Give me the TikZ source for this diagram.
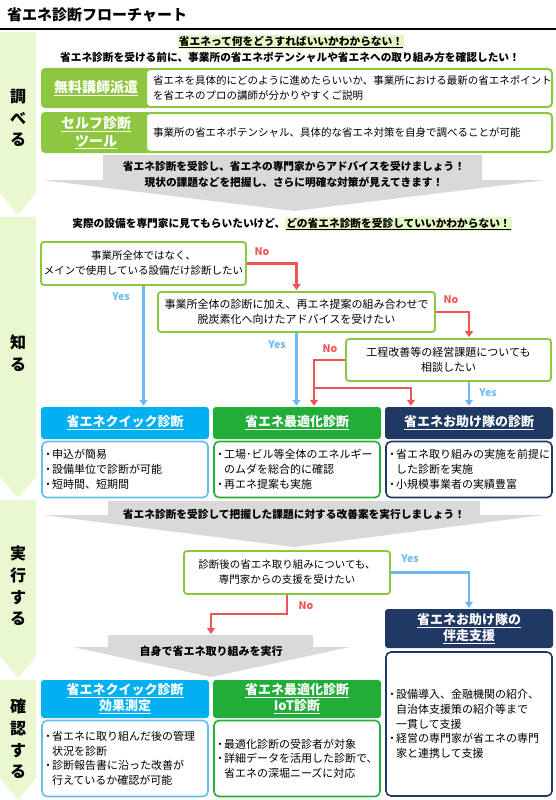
\documentclass[tikz,border=0pt]{standalone}
\usepackage{fontspec}
\setmainfont{Noto Sans CJK JP}
\usetikzlibrary{arrows.meta}

\definecolor{stagegreen}{RGB}{233,248,207}
\definecolor{hlgreen}{RGB}{228,246,196}
\definecolor{leafgreen}{RGB}{141,198,63}
\definecolor{bannergray}{RGB}{217,217,217}
\definecolor{yesblue}{RGB}{110,185,245}
\definecolor{nored}{RGB}{238,85,85}
\definecolor{quickcyan}{RGB}{0,176,240}
\definecolor{quickline}{RGB}{100,190,235}
\definecolor{optgreen}{RGB}{34,172,56}
\definecolor{teamnavy}{RGB}{31,56,100}

\newcommand{\hlmark}[1]{{\setlength{\fboxsep}{1pt}\colorbox{hlgreen}{\underline{#1}}}}
\newcommand{\bul}{\makebox[8pt][c]{・}}
\newcommand{\ind}{\hspace*{8pt}}

\begin{document}
\begin{tikzpicture}[x=1pt,y=-1pt,>={Triangle[width=8pt,length=6pt]},
  stagetext/.style={font=\bfseries\fontsize{16}{21.7}\selectfont, align=center, inner sep=0pt},
  tagbox/.style={fill=leafgreen, rounded corners=4pt, text=white, font=\bfseries\fontsize{14}{18}\selectfont, align=center, inner sep=0pt, minimum width=110pt},
  infobox/.style={fill=white, draw=leafgreen, line width=2pt, rounded corners=4pt, font=\fontsize{10.5}{15}\selectfont, align=left, text width=392pt, inner xsep=7pt, inner ysep=0pt},
  askbox/.style={fill=white, draw=leafgreen, line width=1.8pt, rounded corners=3pt, font=\fontsize{10.5}{15}\selectfont, align=center, inner sep=0pt},
  headbox/.style={rounded corners=3pt, text=white, font=\bfseries\fontsize{13}{16}\selectfont, align=center, inner sep=0pt, minimum width=168pt},
  listbox/.style={fill=white, line width=1.6pt, rounded corners=5pt, font=\fontsize{11}{15}\selectfont, align=left, text width=162pt, inner xsep=2pt, inner ysep=0pt},
  bannertext/.style={font=\bfseries\fontsize{10.7}{16}\selectfont, align=center, inner sep=0pt},
  yesline/.style={draw=yesblue, line width=2.4pt, ->, shorten >=1pt},
  noline/.style={draw=nored, line width=2.4pt, ->, shorten >=1pt},
  yeslabel/.style={text=yesblue, font=\bfseries\fontsize{10.5}{12}\selectfont, inner sep=0pt},
  nolabel/.style={text=nored, font=\bfseries\fontsize{10.5}{12}\selectfont, inner sep=0pt}]
\useasboundingbox (0,0) rectangle (556,800);

\node[anchor=west, font=\bfseries\fontsize{15}{18}\selectfont, inner sep=0pt] (title) at (7,15) {省エネ診断フローチャート};
\draw[line width=2.5pt] (0,29) -- (556,29);

\fill[stagegreen] (0,32) -- (36,32) -- (36,193) -- (18,215) -- (0,193) -- cycle;
\node[stagetext] (research) at (18,118) {調\\べ\\る};
\fill[stagegreen] (0,217) -- (36,217) -- (36,477) -- (18,498) -- (0,477) -- cycle;
\node[stagetext] (learn) at (18,353) {知\\る};
\fill[stagegreen] (0,500) -- (36,500) -- (36,656) -- (18,678) -- (0,656) -- cycle;
\node[stagetext] (act) at (18,586) {実\\行\\す\\る};
\fill[stagegreen] (0,680) -- (36,680) -- (36,778) -- (18,800) -- (0,778) -- cycle;
\node[stagetext] (check) at (18,739) {確\\認\\す\\る};

\node[fill=hlgreen, inner sep=1pt, font=\bfseries\fontsize{10.7}{13}\selectfont] (worry) at (291,42) {\underline{省エネって何をどうすればいいかわからない！}};
\node[inner sep=0pt, font=\bfseries\fontsize{10.7}{13}\selectfont] (wish) at (290,57) {省エネ診断を受ける前に、事業所の省エネポテンシャルや省エネへの取り組み方を確認したい！};

\node[tagbox, minimum height=40pt] (lecture) at (96,88) {\underline{無料講師派遣}};
\node[infobox, minimum height=38pt] (lecturetext) at (349,88) {省エネを具体的にどのように進めたらいいか、事業所における最新の省エネポイント\\を省エネのプロの講師が分かりやすくご説明};
\node[tagbox, minimum height=41pt] (selftool) at (96,132.5) {\underline{セルフ診断}\\\underline{ツール}};
\node[infobox, minimum height=39pt] (selftooltext) at (349,132.5) {事業所の省エネポテンシャル、具体的な省エネ対策を自身で調べることが可能};

\fill[bannergray] (103,155) -- (482,155) -- (482,180) -- (546,180) -- (294,211) -- (42,180) -- (103,180) -- cycle;
\node[bannertext] (advice) at (294,174) {省エネ診断を受診し、省エネの専門家からアドバイスを受けましょう！\\現状の課題などを把握し、さらに明確な対策が見えてきます！};

\node[inner sep=0pt, font=\bfseries\fontsize{10.7}{13}\selectfont] (question) at (292,224) {実際の設備を専門家に見てもらいたいけど、\hlmark{どの省エネ診断を受診していいかわからない！}};

\node[askbox, minimum width=205pt, minimum height=43pt] (whole) at (143.5,263.5) {事業所全体ではなく、\\メインで使用している設備だけ診断したい};
\node[askbox, minimum width=277pt, minimum height=40pt, font=\fontsize{11}{15}\selectfont] (carbon) at (296.5,312) {事業所全体の診断に加え、再エネ提案の組み合わせで\\脱炭素化へ向けたアドバイスを受けたい};
\node[askbox, minimum width=205pt, minimum height=42pt, font=\fontsize{11}{15}\selectfont] (process) at (448.5,360) {工程改善等の経営課題についても\\相談したい};

\node[headbox, fill=quickcyan, minimum height=32pt] (quick) at (125,423) {\underline{省エネクイック診断}};
\node[headbox, fill=optgreen, minimum height=32pt] (optimal) at (297,423) {\underline{省エネ最適化診断}};
\node[headbox, fill=teamnavy, minimum height=32pt] (team) at (469,423) {\underline{省エネお助け隊の診断}};
\node[listbox, draw=quickline, minimum height=56pt] (quicklist) at (125,469.5) {\bul 申込が簡易\\\bul 設備単位で診断が可能\\\bul 短時間、短期間};
\node[listbox, draw=optgreen, minimum height=56pt] (optimallist) at (297,469.5) {\bul 工場･ビル等全体のエネルギー\\\ind のムダを総合的に確認\\\bul 再エネ提案も実施};
\node[listbox, draw=teamnavy, minimum height=56pt] (teamlist) at (469,469.5) {\bul 省エネ取り組みの実施を前提に\\\ind した診断を実施\\\bul 小規模事業者の実績豊富};

\draw[noline] (whole.east) -| (carbon.north);
\draw[yesline] (whole.south) -- (whole.south |- quick.north);
\draw[noline] (carbon.east) -| (team.north |- process.north);
\draw[yesline] (carbon.south) -- (carbon.south |- optimal.north);
\coordinate (split) at (314,388);
\draw[noline] (process.west) -| ([xshift=17pt]optimal.north);
\draw[noline] (split) -| ([xshift=-58pt]team.north);
\draw[yesline] (team.north |- process.south) -- (team.north);

\node[nolabel] (no1) at (262,252) {No};
\node[yeslabel] (yes1) at (121,297) {Yes};
\node[nolabel] (no2) at (451,300) {No};
\node[yeslabel] (yes2) at (277,345) {Yes};
\node[nolabel] (no3) at (330,349) {No};
\node[yeslabel] (yes3) at (488,393) {Yes};

\fill[bannergray] (108,501) -- (480,501) -- (480,515) -- (543,515) -- (294,547) -- (43,515) -- (108,515) -- cycle;
\node[bannertext] (improve) at (294,514) {省エネ診断を受診して把握した課題に対する改善案を実行しましょう！};

\node[askbox, minimum width=206pt, minimum height=43pt] (followup) at (287,572.5) {診断後の省エネ取り組みについても、\\専門家からの支援を受けたい};
\node[headbox, fill=teamnavy, minimum height=39pt] (support) at (469,628.5) {\underline{省エネお助け隊の}\\\underline{伴走支援}};
\node[listbox, draw=teamnavy, minimum height=144pt, font=\fontsize{11}{14.8}\selectfont] (supportlist) at (469,724) {\bul 設備導入、金融機関の紹介、\\\ind 自治体支援策の紹介等まで\\\ind 一貫して支援\\\bul 経営の専門家が省エネの専門\\\ind 家と連携して支援};

\fill[bannergray] (108,635) -- (313,635) -- (313,647) -- (350,647) -- (211,677) -- (73,647) -- (108,647) -- cycle;
\coordinate (selftop) at (211,635);
\node[bannertext, font=\bfseries\fontsize{11}{14}\selectfont] (selfrun) at (211,651) {自身で省エネ取り組みを実行};

\draw[yesline] (followup.east) -| (support.north);
\draw[noline] (followup.south) -- ++(0,19) -| (selftop);
\node[yeslabel] (yes4) at (410,559) {Yes};
\node[nolabel] (no4) at (306,606) {No};

\node[headbox, fill=quickcyan, minimum height=38pt] (quickcheck) at (125,699) {\underline{省エネクイック診断}\\\underline{効果測定}};
\node[headbox, fill=optgreen, minimum height=38pt] (iot) at (297,699) {\underline{省エネ最適化診断}\\\underline{IoT診断}};
\node[listbox, draw=quickline, minimum height=76pt, font=\fontsize{11}{14.5}\selectfont] (quickchecklist) at (125,758.5) {\bul 省エネに取り組んだ後の管理\\\ind 状況を診断\\\bul 診断報告書に沿った改善が\\\ind 行えているか確認が可能};
\node[listbox, draw=optgreen, minimum height=76pt, font=\fontsize{11}{14.5}\selectfont] (iotlist) at (297,758.5) {\bul 最適化診断の受診者が対象\\\bul 詳細データを活用した診断で、\\\ind 省エネの深堀ニーズに対応};
\end{tikzpicture}
\end{document}
